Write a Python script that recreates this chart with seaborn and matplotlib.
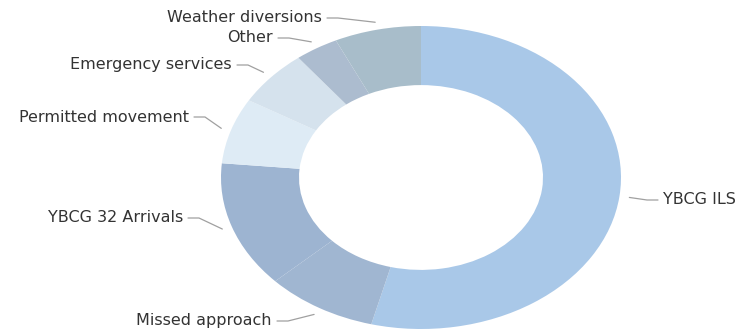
import matplotlib
matplotlib.use("Agg")
import matplotlib.pyplot as plt
import numpy as np
import seaborn as sns

# Share of movements by category (percent)
categories = ["YBCG ILS", "Missed approach", "YBCG 32 Arrivals", "Permitted movement",
              "Emergency services", "Other", "Weather diversions"]
shares = [54, 9, 13.5, 7, 6, 3.5, 7]
colors = ["#a9c8e8", "#a0b6d1", "#9db4d1", "#deebf5", "#d5e2ed", "#acbccf", "#a8bdca"]

sns.set_theme(style="white")
plt.rcParams["font.family"] = ["DejaVu Sans"]

W, H = 753, 330
fig = plt.figure(figsize=(W / 100, H / 100), dpi=100)
fig.patch.set_facecolor("white")

# ring spans pixels x 221..621, y 26..329 (elliptical)
cx, cy, rx, ry = 421, 177.5, 200, 151.5
ax = fig.add_axes([(cx - rx) / W, (H - cy - ry) / H, 2 * rx / W, 2 * ry / H])

wedges, _ = ax.pie(shares, colors=colors, startangle=90, counterclock=False,
                   radius=1.0, wedgeprops=dict(width=0.39, linewidth=0))
ax.set_xlim(-1, 1)
ax.set_ylim(-1, 1)
ax.set_aspect("auto")
ax.axis("off")

def px_to_data(px, py):
    return (px - cx) / rx, (cy - py) / ry

# label placement: (text x in px, text y in px, side)
label_pos = {
    "YBCG ILS": (663, 200, "right"),
    "Missed approach": (272, 321, "left"),
    "YBCG 32 Arrivals": (183, 218, "left"),
    "Permitted movement": (189, 117, "left"),
    "Emergency services": (232, 65, "left"),
    "Other": (273, 38, "left"),
    "Weather diversions": (322, 18, "left"),
}

for w, name in zip(wedges, categories):
    mid = np.deg2rad((w.theta1 + w.theta2) / 2)
    r = 1.05
    axp, ayp = r * np.cos(mid), r * np.sin(mid)
    tx, ty, side = label_pos[name]
    if side == "left":
        p0 = px_to_data(tx + 5, ty)
        p1 = px_to_data(tx + 16, ty)
        ha = "right"
    else:
        p0 = px_to_data(tx - 5, ty)
        p1 = px_to_data(tx - 16, ty)
        ha = "left"
    ax.plot([p0[0], p1[0], axp], [p0[1], p1[1], ayp], color="#a0a0a0",
            linewidth=0.9, clip_on=False)
    lx, ly = px_to_data(tx, ty)
    ax.text(lx, ly, name, ha=ha, va="center", fontsize=11.5, color="#333333",
            clip_on=False)

fig.savefig("out.png", dpi=100, facecolor="white")
